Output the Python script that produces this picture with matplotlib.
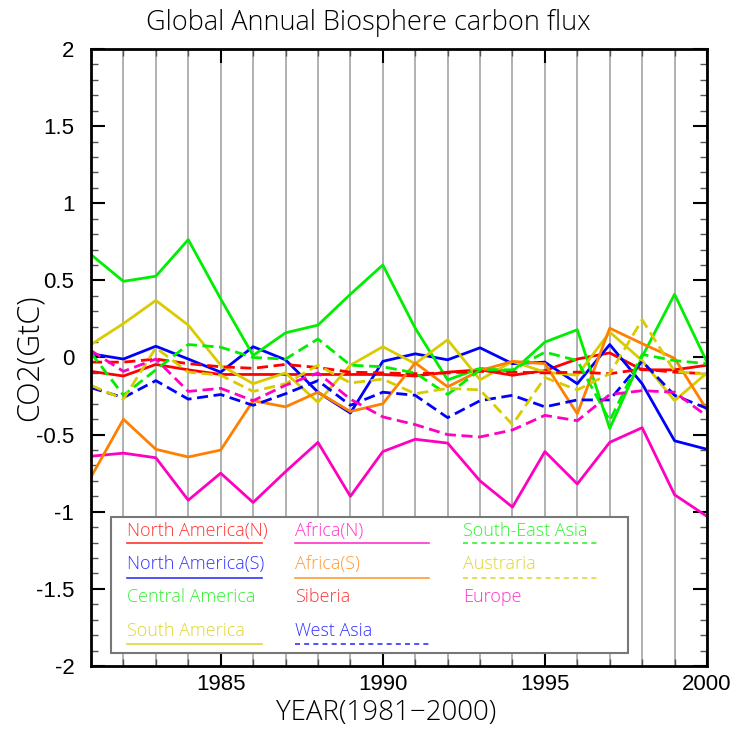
import matplotlib
matplotlib.use("Agg")
import matplotlib.pyplot as plt
from matplotlib.ticker import MultipleLocator
import numpy as np

years = list(range(1981, 2001))

north_america_n = [-0.09, -0.12, -0.045, -0.08, -0.11, -0.11, -0.11, -0.11, -0.11, -0.11,
                   -0.12, -0.095, -0.08, -0.115, -0.085, -0.01, 0.03, -0.08, -0.08, -0.05]
north_america_s = [0.024, -0.01, 0.073, -0.01, -0.095, 0.07, -0.015, -0.225, -0.36, -0.025,
                   0.024, -0.015, 0.063, -0.04, -0.03, -0.17, 0.084, -0.17, -0.54, -0.595]
central_america = [0.667, 0.494, 0.527, 0.764, 0.38, 0.013, 0.16, 0.21, 0.41, 0.60,
                   0.19, -0.145, -0.07, -0.09, 0.10, 0.18, -0.46, 0.005, 0.41, -0.03]
south_america = [0.084, 0.22, 0.37, 0.21, -0.05, -0.17, -0.10, -0.29, -0.05, 0.07,
                 -0.04, 0.115, -0.145, -0.025, -0.095, -0.115, 0.165, -0.02, -0.28, -0.10]
africa_n = [-0.64, -0.62, -0.65, -0.925, -0.75, -0.94, -0.74, -0.55, -0.90, -0.61,
            -0.53, -0.555, -0.80, -0.97, -0.61, -0.82, -0.55, -0.455, -0.89, -1.03]
africa_s = [-0.775, -0.40, -0.595, -0.645, -0.60, -0.28, -0.32, -0.225, -0.35, -0.30,
            -0.035, -0.19, -0.085, -0.025, -0.04, -0.365, 0.19, 0.09, -0.005, -0.34]
siberia = [-0.03, -0.03, -0.01, -0.04, -0.06, -0.07, -0.045, -0.065, -0.095, -0.10,
           -0.105, -0.10, -0.09, -0.095, -0.10, -0.095, -0.105, -0.075, -0.095, -0.105]
west_asia = [-0.196, -0.26, -0.15, -0.27, -0.24, -0.31, -0.235, -0.15, -0.31, -0.225,
             -0.245, -0.39, -0.28, -0.245, -0.32, -0.275, -0.275, -0.025, -0.245, -0.33]
south_east_asia = [0.03, -0.245, -0.08, 0.084, 0.067, 0.0, -0.01, 0.12, -0.05, -0.06,
                   -0.10, -0.24, -0.08, -0.08, 0.035, -0.02, -0.41, 0.02, -0.02, -0.04]
austraria = [-0.18, -0.27, 0.063, -0.095, -0.115, -0.22, -0.17, -0.05, -0.165, -0.14,
             -0.235, -0.20, -0.21, -0.435, -0.13, -0.21, -0.105, 0.245, -0.09, -0.11]
europe = [0.045, -0.09, -0.01, -0.22, -0.20, -0.28, -0.18, -0.10, -0.27, -0.385,
          -0.435, -0.50, -0.515, -0.47, -0.375, -0.41, -0.24, -0.215, -0.225, -0.38]

ytick_vals = [-2, -1.5, -1, -0.5, 0, 0.5, 1, 1.5, 2]
ytick_labels = ["-2", "-1.5", "-1", "-0.5", "0", "0.5", "1", "1.5", "2"]
xtick_vals = [1985, 1990, 1995, 2000]
xtick_labels = ["1985", "1990", "1995", "2000"]

RED = "#ff0000"
BLUE = "#0000ff"
GREEN = "#00ee00"
YELLOW = "#d8cc00"
MAGENTA = "#ff00c0"
ORANGE = "#ff8000"

series = [
    ("North America(N)", north_america_n, RED, "-"),
    ("North America(S)", north_america_s, BLUE, "-"),
    ("Central America", central_america, GREEN, "-"),
    ("South America", south_america, YELLOW, "-"),
    ("Africa(N)", africa_n, MAGENTA, "-"),
    ("Africa(S)", africa_s, ORANGE, "-"),
    ("Siberia", siberia, RED, "--"),
    ("West Asia", west_asia, BLUE, "--"),
    ("South-East Asia", south_east_asia, GREEN, "--"),
    ("Austraria", austraria, YELLOW, "--"),
    ("Europe", europe, MAGENTA, "--"),
]
no_sample = {"Central America", "Siberia", "Europe"}

fig = plt.figure(figsize=(7.34, 7.29), dpi=100)
ax = fig.add_axes([91/734, 1-666/729, 616/734, 617/729])

for yr in years:
    ax.axvline(yr, color="#aaaaaa", lw=1.3, zorder=0)

for name, vals, col, ls in series:
    if ls == "--":
        ax.plot(years, vals, color=col, lw=2.0, ls="--", dashes=(4, 2), zorder=2)
    else:
        ax.plot(years, vals, color=col, lw=2.0, zorder=2)

ax.set_xlim(1981, 2000)
ax.set_ylim(-2, 2)
ax.set_xticks(xtick_vals)
ax.set_xticklabels(xtick_labels, fontfamily="Liberation Sans")
ax.xaxis.set_minor_locator(MultipleLocator(1))
ax.set_yticks(ytick_vals)
ax.set_yticklabels(ytick_labels, fontfamily="Liberation Sans")
ax.yaxis.set_minor_locator(MultipleLocator(0.1))
ax.tick_params(which="both", direction="in", top=True, right=True, width=1.5)
ax.tick_params(which="major", length=10, labelsize=16)
ax.tick_params(axis="x", which="major", pad=6)
ax.tick_params(axis="y", which="major", pad=12)
ax.tick_params(which="minor", length=5, width=1.0, color="#555555")
for sp in ax.spines.values():
    sp.set_linewidth(2.0)

title_font = dict(family=["Open Sans", "DejaVu Sans"], weight="light")
fig.text(368/734, 1-23/729, "Global Annual Biosphere carbon flux", ha="center", va="center",
         fontsize=19.5, **title_font)
fig.text(386/734, 1-713/729, "YEAR(1981\u22122000)", ha="center", va="center",
         fontsize=20, **title_font)
fig.text(30/734, 1-358/729, "CO2(GtC)", ha="center", va="center", rotation=90,
         fontsize=22, **title_font)


def ax_xy(px, py):
    return ((px - 91) / 616.0, (666 - py) / 617.0)


x0, y0 = ax_xy(111, 653)
x1, y1 = ax_xy(628, 517)
ax.add_patch(plt.Rectangle((x0, y0), x1 - x0, y1 - y0, transform=ax.transAxes,
                           facecolor="white", edgecolor="#777777", lw=1.5, zorder=5))

col_x = [127, 295, 463]
col_x_end = [262, 429, 597]
row_text_y = [531, 564, 597, 631]
row_line_y = [543, 578, 611, 644]
for i, (name, vals, col, ls) in enumerate(series):
    c = i // 4
    r = i % 4
    tx, ty = ax_xy(col_x[c], row_text_y[r])
    ax.text(tx, ty, name, transform=ax.transAxes, color=col, fontsize=13,
            ha="left", va="center", zorder=6, family=["Open Sans", "DejaVu Sans"],
            weight="light", alpha=0.8)
    if name in no_sample:
        continue
    lx0, ly = ax_xy(col_x[c], row_line_y[r])
    lx1, _ = ax_xy(col_x_end[c], row_line_y[r])
    if ls == "--":
        ax.plot([lx0, lx1], [ly, ly], transform=ax.transAxes, color=col, lw=1.2,
                ls="--", dashes=(3, 2.5), zorder=6, alpha=0.8)
    else:
        ax.plot([lx0, lx1], [ly, ly], transform=ax.transAxes, color=col, lw=1.2,
                zorder=6, alpha=0.8)

fig.savefig("out.png", dpi=100)
